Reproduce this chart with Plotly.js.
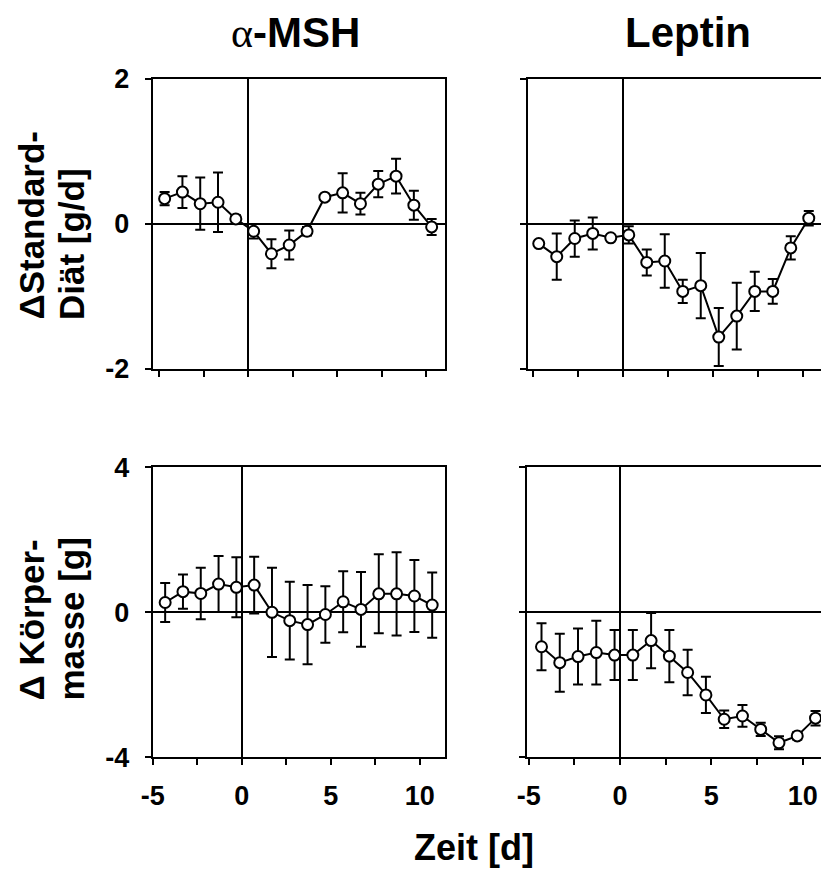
<!DOCTYPE html>
<html>
<head>
<meta charset="utf-8">
<script src="https://cdn.plot.ly/plotly-3.0.1.min.js"></script>
<style>html,body{margin:0;padding:0;background:#fff;}#chart{width:821px;height:869px;}</style>
</head>
<body>
<div id="chart"></div>
<script>
// ---- data ----
const daysTop = [-4.7, -3.7, -2.7, -1.7, -0.7, 0.3, 1.3, 2.3, 3.3, 4.3, 5.3, 6.3, 7.3, 8.3, 9.3, 10.3];
const daysBottom = [-4.3, -3.3, -2.3, -1.3, -0.3, 0.7, 1.7, 2.7, 3.7, 4.7, 5.7, 6.7, 7.7, 8.7, 9.7, 10.7];

// alpha-MSH, food intake (standard diet) [g/d]
const mshFood = [0.35, 0.44, 0.28, 0.30, 0.07, -0.10, -0.41, -0.29, -0.10, 0.37, 0.43, 0.28, 0.55, 0.66, 0.26, -0.04];
const mshFoodErr = [0.09, 0.22, 0.36, 0.41, 0.05, 0.10, 0.20, 0.20, 0.06, 0.03, 0.27, 0.15, 0.18, 0.24, 0.20, 0.11];
// Leptin, food intake [g/d]
const lepFood = [-0.27, -0.45, -0.20, -0.13, -0.19, -0.15, -0.53, -0.51, -0.93, -0.85, -1.56, -1.27, -0.93, -0.93, -0.33, 0.08];
const lepFoodErr = [0.03, 0.32, 0.25, 0.22, 0.03, 0.12, 0.18, 0.37, 0.16, 0.45, 0.40, 0.46, 0.27, 0.17, 0.16, 0.10];
// alpha-MSH, body mass [g]
const mshMass = [0.27, 0.57, 0.52, 0.78, 0.69, 0.75, 0.00, -0.23, -0.34, -0.06, 0.29, 0.08, 0.51, 0.51, 0.45, 0.20];
const mshMassErr = [0.54, 0.47, 0.71, 0.77, 0.83, 0.78, 1.23, 1.07, 1.09, 0.78, 0.84, 1.03, 1.09, 1.15, 0.99, 0.90];
// Leptin, body mass [g]
const lepMass = [-0.95, -1.39, -1.22, -1.11, -1.18, -1.18, -0.78, -1.21, -1.66, -2.28, -2.95, -2.86, -3.23, -3.60, -3.41, -2.92];
const lepMassErr = [0.65, 0.80, 0.77, 0.88, 0.69, 0.69, 0.76, 0.72, 0.63, 0.50, 0.24, 0.30, 0.18, 0.18, 0.10, 0.20];

const xTickVals = [-5, -2.5, 0, 2.5, 5, 7.5, 10];
const xTickText = ['-5', '', '0', '', '5', '', '10'];
const yTopTicks = [-2, 0, 2];
const yBottomTicks = [-4, 0, 4];
const panelTitles = ['<span style="font-family:Liberation Serif;font-weight:normal">α</span>-MSH', 'Leptin'];
const yTitleTop = ['ΔStandard-', 'Diät [g/d]'];
const yTitleBottom = ['Δ Körper-', 'masse [g]'];
const xTitle = 'Zeit [d]';

// ---- layout helpers (pixel geometry) ----
const W = 821, H = 869;
const px = v => v / W;
const py = v => 1 - v / H;
const FONT = 'Liberation Sans, Arial, Helvetica, sans-serif';

function trace(x, y, err, xa, ya) {
  return {
    x: x, y: y, xaxis: xa, yaxis: ya, type: 'scatter', mode: 'lines+markers',
    line: {color: 'black', width: 2},
    marker: {symbol: 'circle', size: 11, color: 'white', line: {color: 'black', width: 2}},
    error_y: {type: 'data', array: err, visible: true, color: 'black', thickness: 2, width: 5},
    hoverinfo: 'skip', showlegend: false, cliponaxis: false
  };
}

const data = [
  trace(daysTop, mshFood, mshFoodErr, 'x', 'y'),
  trace(daysTop, lepFood, lepFoodErr, 'x2', 'y2'),
  trace(daysBottom, mshMass, mshMassErr, 'x3', 'y3'),
  trace(daysBottom, lepMass, lepMassErr, 'x4', 'y4')
];

function xa(domain, range, labels, mirror, anchor) {
  return {
    domain: domain, range: range, anchor: anchor,
    tickmode: 'array', tickvals: xTickVals, ticktext: xTickText,
    ticks: 'outside', ticklen: 6, tickwidth: 2, tickcolor: 'black',
    showticklabels: labels, ticklabelstandoff: 7,
    tickfont: {family: FONT, size: 27, color: 'black', weight: 'bold'},
    showline: true, linewidth: 2, linecolor: 'black', mirror: mirror,
    zeroline: true, zerolinewidth: 2, zerolinecolor: 'black',
    showgrid: false, fixedrange: true
  };
}
function ya(domain, range, ticks, labels, mirror, anchor) {
  return {
    domain: domain, range: range, anchor: anchor,
    tickmode: 'array', tickvals: ticks, ticktext: ticks.map(String),
    ticks: 'outside', ticklen: 6, tickwidth: 2, tickcolor: 'black',
    showticklabels: labels, ticklabelstandoff: 10,
    tickfont: {family: FONT, size: 27, color: 'black', weight: 'bold'},
    showline: true, linewidth: 2, linecolor: 'black', mirror: mirror,
    zeroline: true, zerolinewidth: 2, zerolinecolor: 'black',
    showgrid: false, fixedrange: true
  };
}

const topDom = [py(369), py(79)];
const botDom = [py(757.3), py(467.3)];

function ann(text, x, y, size, opts) {
  return Object.assign({
    text: text, xref: 'paper', yref: 'paper', x: x, y: y,
    showarrow: false, xanchor: 'center', yanchor: 'middle',
    font: {family: FONT, size: size, color: 'black', weight: 'bold'}
  }, opts || {});
}

const layout = {
  width: W, height: H,
  margin: {l: 0, r: 0, t: 0, b: 0, pad: 0},
  paper_bgcolor: 'white', plot_bgcolor: 'white',
  font: {family: FONT, color: 'black'},
  xaxis: xa([px(152.7), px(445)], [-5.37, 11.05], false, true, 'y'),
  yaxis: ya(topDom, [-2, 2], yTopTicks, true, true, 'x'),
  xaxis2: xa([px(528.3), 1], [-5.28, 10.98], false, true, 'y2'),
  yaxis2: ya(topDom, [-2, 2], yTopTicks, false, false, 'x2'),
  xaxis3: xa([px(152.7), px(445)], [-5.0, 11.42], true, true, 'y3'),
  yaxis3: ya(botDom, [-4, 4], yBottomTicks, true, true, 'x3'),
  xaxis4: xa([px(526.7), 1], [-5.11, 11.0], true, true, 'y4'),
  yaxis4: ya(botDom, [-4, 4], yBottomTicks, false, false, 'x4'),
  annotations: [
    ann(panelTitles[0], px(295), py(32), 42),
    ann(panelTitles[1], px(688), py(32), 42),
    ann(xTitle, px(474), py(847), 36),
    ann(yTitleTop[0], px(31), py(322), 35, {textangle: -90, yanchor: 'bottom'}),
    ann(yTitleTop[1], px(71), py(322), 35, {textangle: -90, yanchor: 'bottom'}),
    ann(yTitleBottom[0], px(31), py(703), 35, {textangle: -90, yanchor: 'bottom'}),
    ann(yTitleBottom[1], px(71), py(703), 35, {textangle: -90, yanchor: 'bottom'})
  ]
};

Plotly.newPlot('chart', data, layout, {staticPlot: true, displayModeBar: false});
</script>
</body>
</html>
